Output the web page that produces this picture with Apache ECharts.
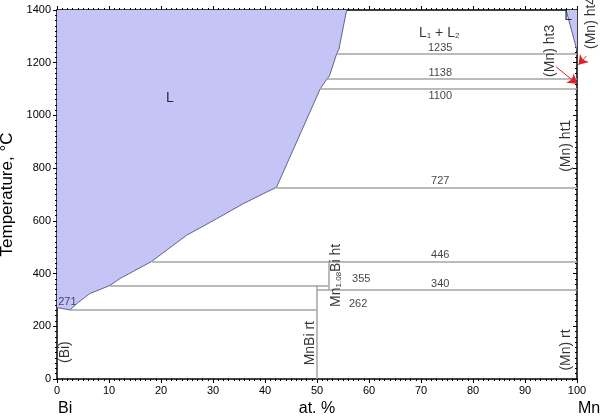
<!DOCTYPE html>
<html><head><meta charset="utf-8">
<script src="https://cdn.jsdelivr.net/npm/echarts@6/dist/echarts.min.js"></script>
<style>html,body{margin:0;padding:0;background:#fff}#c{width:600px;height:417px}</style>
</head><body><div id="c"></div>
<script>
// ---- data (composition in at.% Mn, temperature in °C) ----
const liquidusX = [0, 2.5, 3.8, 6.3, 10.2, 12.1, 18.2, 24.9, 30.7, 35.8, 40.3, 42.2, 50.6, 51.9, 52.4, 53.8, 54.2, 55.7];
const liquidusT = [271, 262, 286, 324, 355, 381, 446, 545, 608, 665, 709, 727, 1100, 1138, 1150, 1235, 1250, 1400];
const mnLiquidusX = [97.9, 100];
const mnLiquidusT = [1400, 1246];

const invariantT    = [1235, 1138, 1100, 727, 446, 355, 340, 262];
const invariantFrom = [53.8, 51.9, 50.6, 42.2, 18.2, 10.2, 50, 2.5];
const invariantTo   = [100, 100, 100, 100, 100, 52.2, 100, 50];

const compoundX    = [50, 52.2];
const compoundFrom = [0, 340];
const compoundTo   = [355, 446];

const tempLabels = ['1235', '1138', '1100', '727', '446', '355', '340', '262', '271'];
const tempLabelT = [1235, 1138, 1100, 727, 446, 355, 340, 262, 271];

const phaseLabels = ['L', 'L{s|1} + L{s|2}', 'L', '(Bi)', 'MnBi rt', 'Mn{s|1.08}Bi ht', '(Mn) rt', '(Mn) ht1', '(Mn) ht3', '(Mn) ht4'];

const arrowFrom = [[96, 1184], [101.8, 1226]];
const arrowTo   = [[100, 1120], [100.3, 1192]];

// ---- layout (label anchors / styles) ----
const tempLabelX = [73.7, 73.7, 73.7, 73.7, 73.7, 58.5, 73.7, 57.9, 2.0];
const tempLabelDy = [-6, -6, 7, -6, -6, -6, -5, -6, -6];
const phaseLabelPos = [[21.7, 1067], [73.5, 1314], [98.3, 1377], [1.5, 102], [48.7, 136], [53.7, 393], [97.9, 110], [97.9, 885], [94.8, 1245], [102.7, 1351]];
const phaseRotate = [0, 0, 0, 90, 90, 90, 90, 90, 90, 90];

const FONT = '"Liberation Sans", Arial, sans-serif';
const chart = echarts.init(document.getElementById('c'), null, {renderer: 'canvas'});

const invLines = invariantT.map((t, i) => ({coords: [[invariantFrom[i], t], [invariantTo[i], t]]}))
  .concat(compoundX.map((x, i) => ({coords: [[x, compoundFrom[i]], [x, compoundTo[i]]]})));

const tempLabelData = tempLabels.map((s, i) => ({
  value: [tempLabelX[i], tempLabelT[i]],
  label: {show: true, formatter: s, position: 'inside', offset: [0, tempLabelDy[i]], fontSize: 11, color: i === 8 ? '#1a1a50' : '#111', fontFamily: FONT}
}));
const rich = {s: {fontSize: 8, fontFamily: FONT, verticalAlign: 'bottom', lineHeight: 12, padding: [4, 0, 0, 0]}};
const phaseLabelData = phaseLabels.map((s, i) => ({
  value: phaseLabelPos[i],
  label: {show: true, formatter: s, position: 'inside', rotate: phaseRotate[i], fontSize: 14, color: '#000', fontFamily: FONT, rich: rich}
}));

const axisCommon = {
  axisLine: {show: true, onZero: false, lineStyle: {color: '#000', width: 1.5}},
  splitLine: {show: false},
  minorSplitLine: {show: false}
};
const plain = v => String(v);

chart.setOption({
  animation: false,
  backgroundColor: '#fff',
  grid: {left: 57, right: 23, top: 10, bottom: 38, containLabel: false, outerBoundsMode: 'none'},
  xAxis: [
    Object.assign({}, axisCommon, {
      type: 'value', min: 0, max: 100, interval: 10, position: 'bottom',
      axisTick: {show: true, length: 4, lineStyle: {color: '#000', width: 1}},
      minorTick: {show: true, splitNumber: 10, length: 2, lineStyle: {color: '#000', width: 1}},
      axisLabel: {fontSize: 11, color: '#000', margin: 6, fontFamily: FONT, formatter: plain},
      name: 'at. %', nameLocation: 'middle', nameGap: 20,
      nameTextStyle: {fontSize: 16, color: '#000', fontFamily: FONT}
    }),
    Object.assign({}, axisCommon, {
      type: 'value', min: 0, max: 100, interval: 10, position: 'top',
      axisTick: {show: true, length: 4, lineStyle: {color: '#000', width: 1}},
      minorTick: {show: true, splitNumber: 10, length: 2, lineStyle: {color: '#000', width: 1}},
      axisLabel: {show: false}
    })
  ],
  yAxis: [
    Object.assign({}, axisCommon, {
      type: 'value', min: 0, max: 1400, interval: 200, position: 'left',
      axisTick: {show: true, length: 4, lineStyle: {color: '#000', width: 1}},
      minorTick: {show: true, splitNumber: 10, length: 2, lineStyle: {color: '#000', width: 1}},
      axisLabel: {fontSize: 11, color: '#000', margin: 6, fontFamily: FONT, formatter: plain},
      name: 'Temperature, °C', nameLocation: 'middle', nameGap: 36, nameRotate: 90,
      nameTextStyle: {fontSize: 17, color: '#000', fontFamily: FONT}
    }),
    Object.assign({}, axisCommon, {
      type: 'value', min: 0, max: 1400, interval: 200, position: 'right',
      axisTick: {show: true, inside: true, length: 4, lineStyle: {color: '#000', width: 1}},
      minorTick: {show: true, splitNumber: 10, length: 2, lineStyle: {color: '#000', width: 1}},
      axisLabel: {show: false}
    })
  ],
  graphic: [
    {type: 'text', left: 58, top: 401, style: {text: 'Bi', fill: '#000', font: '16px ' + FONT}},
    {type: 'text', left: 578, top: 401, style: {text: 'Mn', fill: '#000', font: '16px ' + FONT}}
  ],
  series: [
    {
      type: 'line', xAxisIndex: 0, yAxisIndex: 0, symbol: 'none', z: 1,
      data: liquidusX.map((x, i) => [x, liquidusT[i]]),
      lineStyle: {color: '#62628e', width: 1},
      areaStyle: {color: '#c4c4f6', opacity: 1, origin: 'end'}
    },
    {
      type: 'line', xAxisIndex: 0, yAxisIndex: 0, symbol: 'none', z: 1,
      data: mnLiquidusX.map((x, i) => [x, mnLiquidusT[i]]),
      lineStyle: {color: '#62628e', width: 1},
      areaStyle: {color: '#c4c4f6', opacity: 1, origin: 'end'}
    },
    {
      type: 'lines', coordinateSystem: 'cartesian2d', xAxisIndex: 0, yAxisIndex: 0, z: 2,
      data: invLines,
      lineStyle: {color: '#a4a4a4', width: 1.5, opacity: 1}
    },
    {
      type: 'lines', coordinateSystem: 'cartesian2d', xAxisIndex: 0, yAxisIndex: 0, z: 5, clip: false,
      data: arrowFrom.map((p, i) => ({coords: [p, arrowTo[i]]})),
      symbol: ['none', 'arrow'], symbolSize: 9,
      lineStyle: {color: '#e0202a', width: 1, opacity: 1}
    },
    {
      type: 'scatter', xAxisIndex: 0, yAxisIndex: 0, symbolSize: 0, z: 6, clip: false,
      data: tempLabelData, silent: true
    },
    {
      type: 'scatter', xAxisIndex: 0, yAxisIndex: 0, symbolSize: 0, z: 6, clip: false,
      data: phaseLabelData, silent: true
    }
  ]
});
</script></body></html>
